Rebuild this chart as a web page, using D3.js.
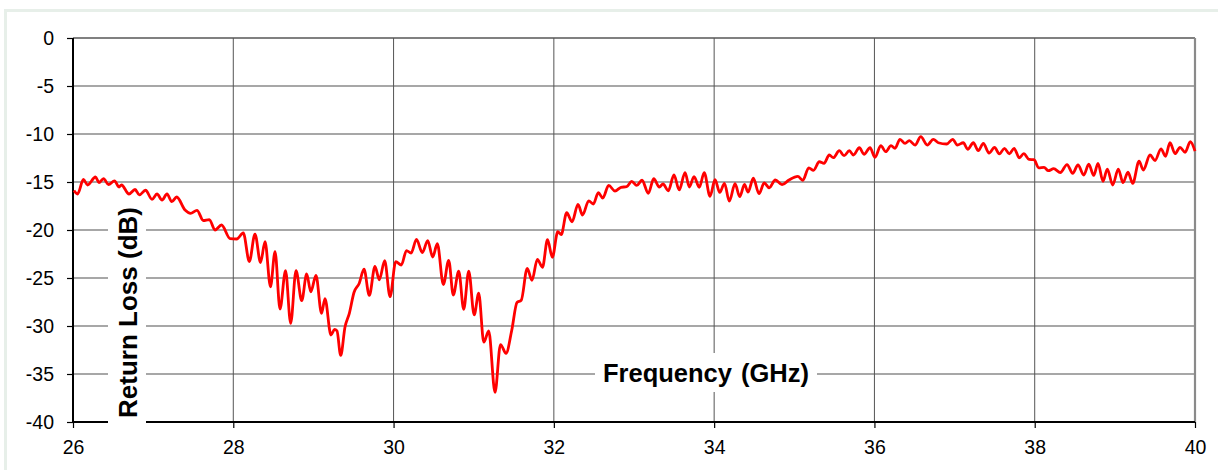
<!DOCTYPE html>
<html>
<head>
<meta charset="utf-8">
<script src="https://cdn.jsdelivr.net/npm/d3@7"></script>
<style>
  html, body { margin: 0; padding: 0; background: #fff; }
  svg { display: block; font-family: "Liberation Sans", Arial, sans-serif; }
</style>
</head>
<body>
<svg id="chart" width="1218" height="470"></svg>
<script>
// ---- data ----
const xTicks = [26, 28, 30, 32, 34, 36, 38, 40];
const yTicks = [0, -5, -10, -15, -20, -25, -30, -35, -40];
const xTitle = "Frequency (GHz)";
const yTitle = "Return Loss (dB)";

const freqGHz = [
  26.012, 26.056, 26.131, 26.181, 26.281, 26.324, 26.381, 26.443, 26.518, 26.574,
  26.605, 26.699, 26.774, 26.827, 26.905, 26.986, 27.048, 27.111, 27.173, 27.232,
  27.294, 27.398, 27.466, 27.547, 27.626, 27.701, 27.772, 27.853, 27.959, 28.043,
  28.125, 28.200, 28.271, 28.340, 28.396, 28.464, 28.521, 28.583, 28.652, 28.716,
  28.783, 28.854, 28.916, 28.967, 29.032, 29.101, 29.144, 29.219, 29.263, 29.294,
  29.340, 29.394, 29.448, 29.506, 29.572, 29.631, 29.697, 29.768, 29.822, 29.889,
  29.956, 30.027, 30.097, 30.161, 30.218, 30.286, 30.359, 30.426, 30.488, 30.546,
  30.621, 30.688, 30.745, 30.813, 30.875, 30.938, 31.006, 31.062, 31.126, 31.187,
  31.266, 31.334, 31.403, 31.474, 31.540, 31.593, 31.668, 31.727, 31.794, 31.858,
  31.921, 31.981, 32.049, 32.092, 32.160, 32.227, 32.301, 32.358, 32.435, 32.492,
  32.555, 32.610, 32.684, 32.763, 32.838, 32.909, 32.972, 33.034, 33.100, 33.179,
  33.246, 33.316, 33.362, 33.428, 33.499, 33.564, 33.637, 33.690, 33.749, 33.815,
  33.876, 33.949, 34.011, 34.070, 34.129, 34.189, 34.261, 34.319, 34.379, 34.423,
  34.489, 34.560, 34.625, 34.687, 34.763, 34.847, 34.934, 35.044, 35.106, 35.181,
  35.240, 35.312, 35.371, 35.437, 35.487, 35.562, 35.621, 35.687, 35.737, 35.812,
  35.870, 35.945, 36.007, 36.079, 36.141, 36.207, 36.257, 36.319, 36.382, 36.435,
  36.507, 36.578, 36.660, 36.735, 36.797, 36.902, 36.977, 37.034, 37.109, 37.164,
  37.234, 37.296, 37.359, 37.430, 37.499, 37.558, 37.623, 37.683, 37.742, 37.808,
  37.863, 37.929, 37.991, 38.050, 38.116, 38.170, 38.237, 38.320, 38.403, 38.474,
  38.540, 38.612, 38.675, 38.736, 38.790, 38.852, 38.906, 38.973, 39.043, 39.102,
  39.164, 39.223, 39.302, 39.355, 39.439, 39.501, 39.576, 39.632, 39.688, 39.751,
  39.813, 39.876, 39.942, 40.000
];
const returnLossDb = [
  -15.89, -16.25, -14.74, -15.31, -14.48, -15.07, -14.66, -15.26, -14.88, -15.52,
  -15.31, -16.25, -15.78, -16.35, -15.86, -16.80, -16.25, -16.88, -16.25, -17.05,
  -16.56, -17.92, -18.26, -17.95, -19.01, -18.91, -20.00, -19.48, -20.89, -20.94,
  -20.31, -23.28, -20.42, -23.39, -21.22, -25.91, -22.26, -28.23, -24.24, -29.72,
  -24.24, -27.36, -24.58, -26.43, -24.74, -28.68, -27.14, -30.94, -30.36, -30.52,
  -33.07, -30.10, -28.68, -26.51, -25.55, -24.09, -26.82, -23.80, -25.18, -23.20,
  -26.95, -23.30, -23.65, -22.14, -22.40, -20.99, -22.36, -21.11, -22.81, -21.43,
  -25.68, -23.16, -26.77, -24.29, -28.26, -24.29, -28.85, -26.59, -31.69, -30.52,
  -36.91, -31.93, -32.84, -30.47, -27.55, -27.32, -23.99, -25.24, -23.05, -23.88,
  -21.01, -22.84, -20.18, -20.47, -18.20, -19.14, -17.34, -18.44, -16.96, -17.29,
  -16.11, -16.67, -15.36, -15.94, -15.55, -15.49, -14.93, -15.36, -14.82, -16.18,
  -14.66, -15.52, -15.21, -15.91, -14.27, -15.83, -14.03, -15.52, -14.45, -15.55,
  -14.03, -16.49, -14.76, -16.09, -15.14, -17.00, -15.18, -16.53, -15.26, -16.06,
  -14.61, -16.22, -15.10, -15.60, -14.79, -15.28, -14.79, -14.41, -14.82, -13.52,
  -13.78, -12.89, -13.05, -12.19, -12.47, -11.74, -12.26, -11.74, -12.19, -11.43,
  -12.11, -11.43, -12.43, -11.22, -11.84, -11.22, -11.49, -10.55, -10.97, -10.70,
  -11.15, -10.28, -11.15, -10.55, -10.91, -11.04, -10.55, -11.15, -10.91, -11.59,
  -10.91, -11.74, -10.97, -11.98, -11.39, -12.08, -11.49, -12.08, -11.49, -12.48,
  -12.05, -12.64, -12.68, -13.52, -13.47, -13.82, -13.61, -14.01, -13.18, -14.09,
  -13.23, -14.27, -13.15, -14.32, -13.05, -14.92, -13.65, -15.31, -13.65, -15.07,
  -13.98, -15.14, -12.83, -13.75, -12.19, -12.76, -11.54, -12.32, -10.91, -12.05,
  -11.39, -11.90, -10.80, -11.79
];

// ---- layout ----
const svg = d3.select("#chart");
const pLeft = 73, pRight = 1195, pTop = 38, pBottom = 422;

const x = d3.scaleLinear().domain([26, 40]).range([pLeft, pRight]);
const y = d3.scaleLinear().domain([-40, 0]).range([pBottom, pTop]);

// outer frame (light)
svg.append("rect")
  .attr("x", 5.5).attr("y", 10.5).attr("width", 1400).attr("height", 700)
  .attr("fill", "none").attr("stroke", "#e7efe9").attr("stroke-width", 3);

// gridlines
svg.append("g").selectAll("line").data(yTicks.filter(d => d > -40)).join("line")
  .attr("x1", pLeft).attr("x2", pRight)
  .attr("y1", d => y(d)).attr("y2", d => y(d))
  .attr("stroke", d => d === 0 ? "#808080" : "#8a8a8a")
  .attr("stroke-width", d => d === 0 ? 2.2 : 1.5);

svg.append("g").selectAll("line").data(xTicks.filter(d => d > 26)).join("line")
  .attr("x1", d => x(d)).attr("x2", d => x(d))
  .attr("y1", pTop).attr("y2", pBottom)
  .attr("stroke", d => d === 40 ? "#8a8a8a" : "#555")
  .attr("stroke-width", d => d === 40 ? 2.2 : 1);

// axes
const yAxis = d3.axisLeft(y).tickValues(yTicks).tickSize(6).tickPadding(13)
  .tickFormat(d => String(d));
const xAxis = d3.axisBottom(x).tickValues(xTicks).tickSize(6).tickPadding(12)
  .tickFormat(d => String(d));

const gy = svg.append("g").attr("transform", `translate(${pLeft},0)`).call(yAxis);
const gx = svg.append("g").attr("transform", `translate(0,${pBottom})`).call(xAxis);

[gy, gx].forEach(g => {
  g.select(".domain").attr("stroke", "#000").attr("stroke-width", 2);
  g.selectAll(".tick line").attr("stroke", "#000").attr("stroke-width", 1.2);
  g.selectAll(".tick text").attr("fill", "#000")
    .style("font-family", '"Liberation Sans", Arial, sans-serif')
    .style("font-size", "19.5px");
});
gy.select(".domain").attr("d", `M0,${pTop}V${pBottom}`);
gx.select(".domain").attr("d", `M${pLeft},0H${pRight}`);

// axis title boxes (white background, covering grid and axis)
svg.append("rect").attr("x", 108).attr("y", 200).attr("width", 38).attr("height", 226)
  .attr("fill", "#fff");
svg.append("rect").attr("x", 595).attr("y", 353).attr("width", 222).attr("height", 39)
  .attr("fill", "#fff");

svg.append("text")
  .attr("transform", "translate(137,312.5) rotate(-90)")
  .attr("text-anchor", "middle")
  .style("font-family", '"Liberation Sans", Arial, sans-serif')
  .style("font-weight", "bold").style("font-size", "26px")
  .attr("fill", "#000")
  .text(yTitle);

svg.append("text")
  .attr("x", 706).attr("y", 381.5)
  .attr("text-anchor", "middle")
  .style("font-family", '"Liberation Sans", Arial, sans-serif')
  .style("font-weight", "bold").style("font-size", "25.5px")
  .style("word-spacing", "2px")
  .attr("fill", "#000")
  .text(xTitle);

// data line
const pts = freqGHz.map((f, i) => [f, returnLossDb[i]]);
const line = d3.line().x(d => x(d[0])).y(d => y(d[1])).curve(d3.curveMonotoneX);
svg.append("path").datum(pts)
  .attr("d", line)
  .attr("fill", "none")
  .attr("stroke", "#ff0000")
  .attr("stroke-width", 2.8)
  .attr("stroke-linejoin", "round");
</script>
</body>
</html>
